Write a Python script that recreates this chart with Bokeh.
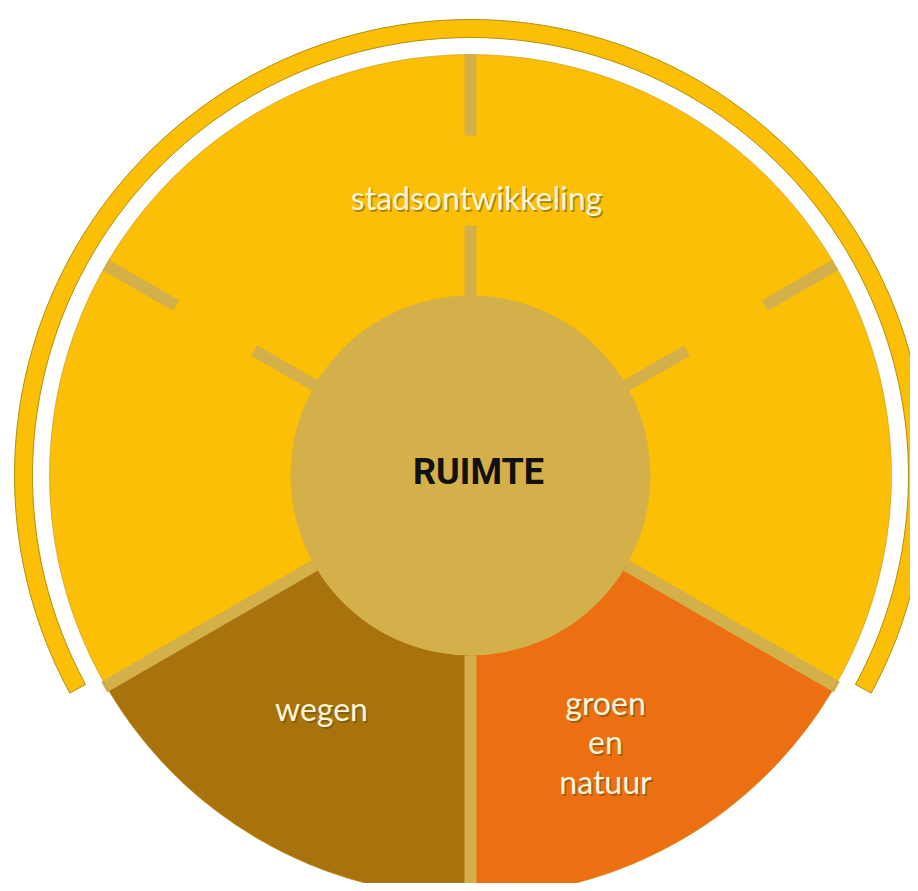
import math
from bokeh.plotting import figure
from bokeh.models import Range1d
from bokeh.embed import file_html
from bokeh.resources import INLINE
from bokeh.core.properties import value

# ---- data ----
categories = ["stadsontwikkeling", "wegen", "groen en natuur"]
spans_deg = [240, 60, 60]          # angular size of each segment
start_deg = -30                    # segments go counter-clockwise from here
seg_colors = ["#FBBF05", "#A8730C", "#EC6F12"]
sub_divider_deg = [30, 90, 150]    # partial dividers inside the large segment
center_label = "RUIMTE"
label_lines = ["stadsontwikkeling", "wegen", "groen", "en", "natuur"]

W, H = 910, 883
TOP = 891  # data y = TOP - pixel y
p = figure(width=W, height=H, output_backend="svg", toolbar_location=None,
           x_range=Range1d(0, W), y_range=Range1d(TOP - H, TOP),
           min_border=0, outline_line_color=None)
p.axis.visible = False
p.grid.visible = False
p.background_fill_color = "white"

cx, cy = 470, TOP - 475
R = 421
Rc = 180
tan = "#D3B04A"

# outer ring over the large segment
big_start = start_deg
big_end = start_deg + spans_deg[0]
p.annular_wedge(x=[cx], y=[cy], inner_radius=438, outer_radius=456,
                start_angle=[math.radians(big_start + 1.5)], end_angle=[math.radians(big_end - 1.5)],
                fill_color="#FBBF05", line_color="#B0900F", line_width=1)

# segments
a = start_deg
for c, s in zip(seg_colors, spans_deg):
    p.wedge(x=[cx], y=[cy], radius=R, start_angle=[math.radians(a)],
            end_angle=[math.radians(a + s)], fill_color=c, line_color=None)
    a += s

# full dividers between segments
bounds = []
a = start_deg
for s in spans_deg:
    bounds.append(a)
    a += s
p.segment(x0=[cx + Rc * math.cos(math.radians(b)) for b in bounds],
          y0=[cy + Rc * math.sin(math.radians(b)) for b in bounds],
          x1=[cx + (R + 2) * math.cos(math.radians(b)) for b in bounds],
          y1=[cy + (R + 2) * math.sin(math.radians(b)) for b in bounds],
          line_color=tan, line_width=12)

# partial dividers (inner and outer stubs)
for r0, r1 in [(Rc - 5, 250), (340, R)]:
    p.segment(x0=[cx + r0 * math.cos(math.radians(b)) for b in sub_divider_deg],
              y0=[cy + r0 * math.sin(math.radians(b)) for b in sub_divider_deg],
              x1=[cx + r1 * math.cos(math.radians(b)) for b in sub_divider_deg],
              y1=[cy + r1 * math.sin(math.radians(b)) for b in sub_divider_deg],
              line_color=tan, line_width=12)

# thin edge of disk
p.circle(x=[cx], y=[cy], radius=R, fill_color=None, line_color="#C09A28",
         line_width=1, line_alpha=0.6)

# center circle
p.circle(x=[cx], y=[cy], radius=Rc, fill_color=tan, line_color=None)

# labels
lab_x = [476, 321, 605, 605, 605]
lab_y = [TOP - 197, TOP - 708, TOP - 702, TOP - 741, TOP - 781]
p.text(x=[v + 1.5 for v in lab_x], y=[v - 1.5 for v in lab_y], text=label_lines,
       text_font=value("Lato"), text_font_size="32px", text_color="#5a4a20", text_alpha=0.5,
       text_align="center", text_baseline="middle")
p.text(x=lab_x, y=lab_y, text=label_lines,
       text_font=value("Lato"), text_font_size="32px", text_color="#FFF5D6",
       text_align="center", text_baseline="middle")

p.text(x=[478], y=[TOP - 471], text=[center_label], text_font=value("Roboto"),
       text_font_style="bold", text_font_size="36px", text_color="#111111",
       text_align="center", text_baseline="middle")

open("out.html", "w").write(file_html(p, INLINE))
